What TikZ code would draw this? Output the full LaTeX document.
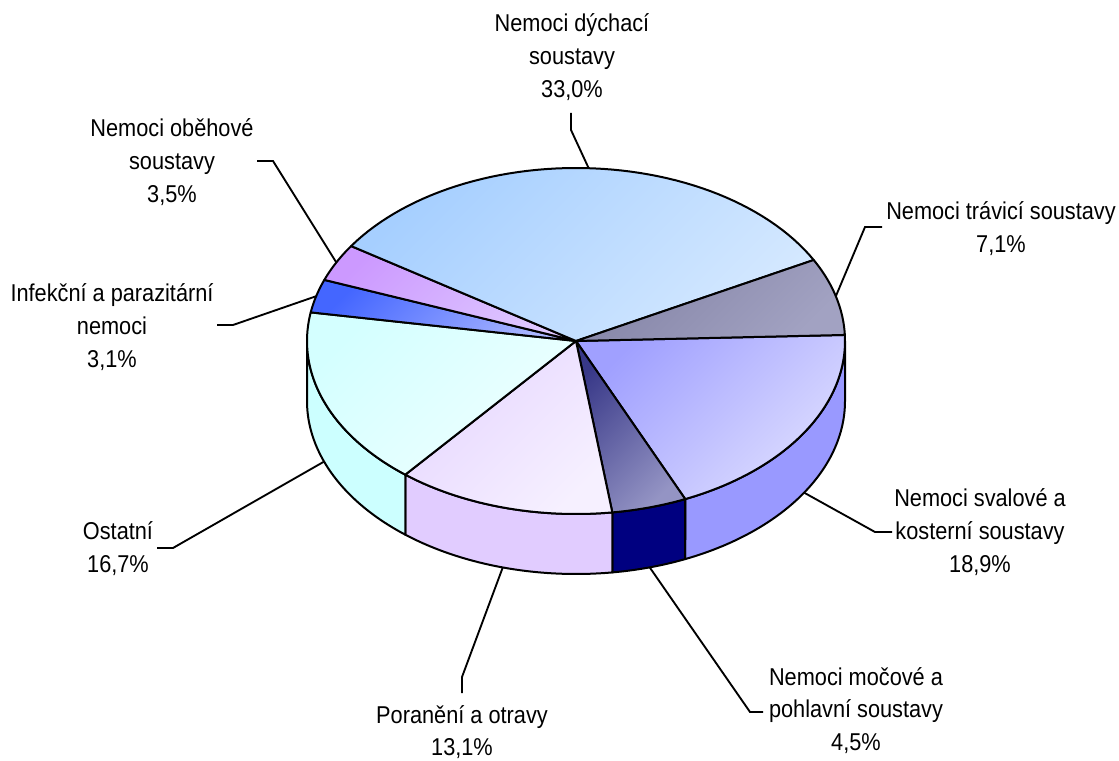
\documentclass[tikz,border=0pt]{standalone}
\usepackage{fontspec}
\setmainfont{Liberation Sans}
\usepackage{graphicx}
\definecolor{respA}{HTML}{A6CFFF}\definecolor{respB}{HTML}{D4E8FF}
\definecolor{travA}{HTML}{8484A6}\definecolor{travB}{HTML}{A2A2C2}
\definecolor{svalA}{HTML}{A0A0FF}\definecolor{svalB}{HTML}{DCDCFF}\definecolor{svalS}{HTML}{9999FF}
\definecolor{mocA}{HTML}{383888}\definecolor{mocB}{HTML}{9494C4}\definecolor{mocS}{HTML}{000080}
\definecolor{porA}{HTML}{E6D6FF}\definecolor{porB}{HTML}{F6F0FF}\definecolor{porS}{HTML}{E1CCFF}
\definecolor{ostA}{HTML}{D4FFFF}\definecolor{ostB}{HTML}{EEFFFF}\definecolor{ostS}{HTML}{CCFFFF}
\definecolor{infA}{HTML}{4466FF}\definecolor{infB}{HTML}{AAB6FF}
\definecolor{obeA}{HTML}{CC99FF}\definecolor{obeB}{HTML}{DEC8FF}
\newcommand\lbltext[1]{\scalebox{1}[1.12]{\begin{tabular}[t]{@{}c@{}}#1\end{tabular}}}
\newcommand\topface[4]{\draw[pieedge,top color=#3,bottom color=#4,shading angle=45] (C) -- plot[domain=#1:#2,samples=60,variable=\t] ({576+269*cos(\t)},{419+173*sin(\t)}) -- cycle;}
\newcommand\sideface[3]{\draw[pieedge,fill=#3] plot[domain=#1:#2,samples=60,variable=\t] ({576+269*cos(\t)},{419+173*sin(\t)}) -- plot[domain=#2:#1,samples=60,variable=\t] ({576+269*cos(\t)},{359+173*sin(\t)}) -- cycle;}
\begin{document}
\begin{tikzpicture}[x=0.75pt,y=0.75pt,
  pieedge/.style={line width=1.5pt,line join=round},
  leader/.style={line width=1.4pt,line join=miter},
  lbl/.style={anchor=base,inner sep=0pt,font=\fontsize{16.3}{22}\selectfont}]
\useasboundingbox (0,0) rectangle (1119,760);
\coordinate (C) at (576,419);
% side walls
\sideface{0}{-66.04}{svalS}
\sideface{-66.04}{-82.24}{mocS}
\sideface{-82.24}{-129.4}{porS}
\sideface{-129.4}{-180}{ostS}
% top faces
\topface{2}{-66.04}{svalA}{svalB}
\topface{-66.04}{-82.24}{mocA}{mocB}
\topface{-82.24}{-129.4}{porA}{porB}
\topface{-129.4}{-189.52}{ostA}{ostB}
\topface{-189.52}{-200.68}{infA}{infB}
\topface{-200.68}{-213.28}{obeA}{obeB}
\topface{-213.28}{-332.08}{respA}{respB}
\topface{-332.08}{-358}{travA}{travB}
% anchor points on the pie
\coordinate (pResp) at ({576+269*cos(87.3)},{419+173*sin(87.3)});
\coordinate (pTrav) at ({576+269*cos(15)},{419+173*sin(15)});
\coordinate (pSval) at ({576+269*cos(-32)},{359+173*sin(-32)});
\coordinate (pMoc) at ({576+269*cos(-74.1)},{359+173*sin(-74.1)});
\coordinate (pPor) at ({576+269*cos(-105.8)},{359+173*sin(-105.8)});
\coordinate (pOst) at ({576+269*cos(-159.5)},{359+173*sin(-159.5)});
\coordinate (pInf) at ({576+269*cos(165)},{419+173*sin(165)});
\coordinate (pObe) at ({576+269*cos(153)},{419+173*sin(153)});
% labels
\node[lbl] (lResp) at (572,728) {\lbltext{Nemoci dýchací\\soustavy\\33,0\%}};
\node[lbl] (lObe) at (172,623) {\lbltext{Nemoci oběhové\\soustavy\\3,5\%}};
\node[lbl] (lInf) at (112,458) {\lbltext{Infekční a parazitární\\nemoci\\3,1\%}};
\node[lbl] (lTrav) at (1001,540) {\lbltext{Nemoci trávicí soustavy\\7,1\%}};
\node[lbl] (lSval) at (980,253) {\lbltext{Nemoci svalové a\\kosterní soustavy\\18,9\%}};
\node[lbl] (lMoc) at (856,75) {\lbltext{Nemoci močové a\\pohlavní soustavy\\4,5\%}};
\node[lbl] (lPor) at (462,37) {\lbltext{Poranění a otravy\\13,1\%}};
\node[lbl] (lOst) at (118,220) {\lbltext{Ostatní\\16,7\%}};
% leader start / elbow points
\coordinate (sResp) at (571,647); \coordinate (eResp) at (571,630);
\coordinate (sObe) at (257,599); \coordinate (eObe) at (273,599);
\coordinate (sInf) at (217,435); \coordinate (eInf) at (233,435);
\coordinate (sTrav) at (882,533); \coordinate (eTrav) at (865,533);
\coordinate (sSval) at (892,228); \coordinate (eSval) at (875,228);
\coordinate (sMoc) at (763,48); \coordinate (eMoc) at (750,48);
\coordinate (sPor) at (462,67); \coordinate (ePor) at (462,83);
\coordinate (sOst) at (157,212); \coordinate (eOst) at (173,212);
\draw[leader] (sResp) -- (eResp) -- (pResp);
\draw[leader] (sObe) -- (eObe) -- (pObe);
\draw[leader] (sInf) -- (eInf) -- (pInf);
\draw[leader] (sTrav) -- (eTrav) -- (pTrav);
\draw[leader] (sSval) -- (eSval) -- (pSval);
\draw[leader] (sMoc) -- (eMoc) -- (pMoc);
\draw[leader] (sPor) -- (ePor) -- (pPor);
\draw[leader] (sOst) -- (eOst) -- (pOst);
\end{tikzpicture}
\end{document}
